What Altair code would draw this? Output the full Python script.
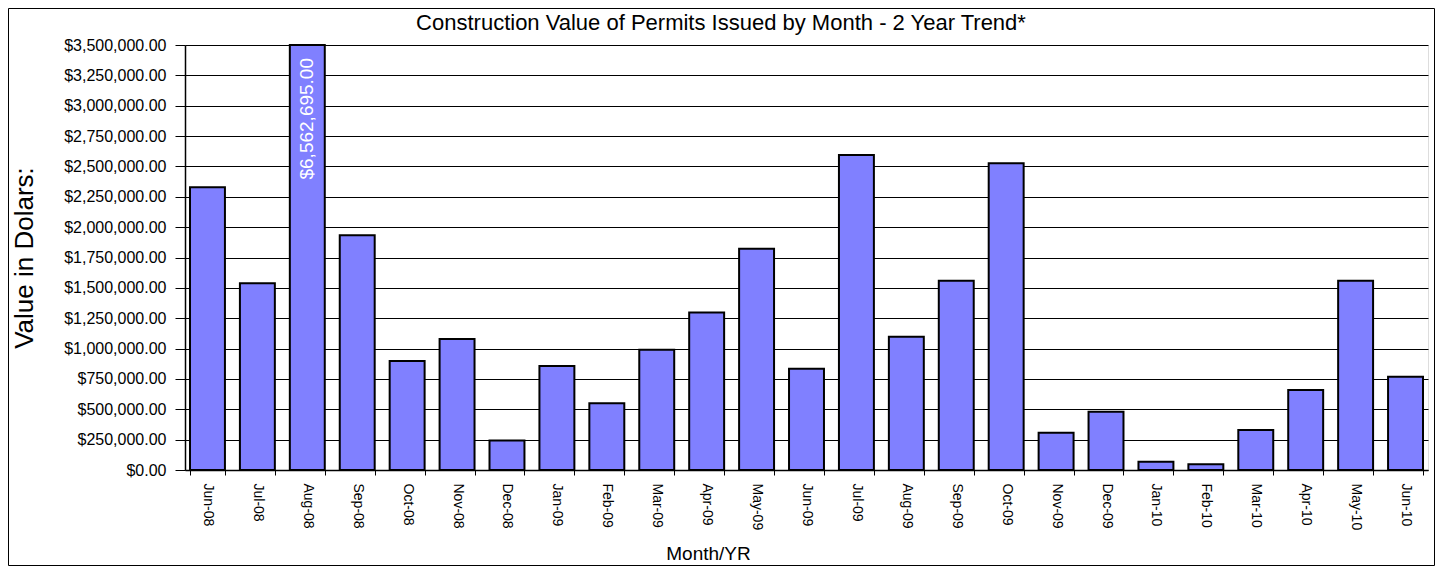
import altair as alt
import pandas as pd

months = ["Jun-08", "Jul-08", "Aug-08", "Sep-08", "Oct-08", "Nov-08", "Dec-08",
          "Jan-09", "Feb-09", "Mar-09", "Apr-09", "May-09", "Jun-09", "Jul-09",
          "Aug-09", "Sep-09", "Oct-09", "Nov-09", "Dec-09", "Jan-10", "Feb-10",
          "Mar-10", "Apr-10", "May-10", "Jun-10"]
values = [2328000, 1537000, 6562695, 1933000, 898000, 1079000, 243000,
          856000, 549000, 990000, 1298000, 1822000, 834000, 2594000,
          1098000, 1559000, 2526000, 307000, 480000, 68000, 47000,
          329000, 659000, 1559000, 768000]
y_ticks = list(range(0, 3500001, 250000))
label_month = ["Aug-08"]
label_value = [6562695]
title_text = "Construction Value of Permits Issued by Month - 2 Year Trend*"

FONT = "Liberation Sans"
df = pd.DataFrame({"month": months, "value": values})
lab = pd.DataFrame({"month": label_month, "value": label_value})
frame = pd.DataFrame({"a": [0]})

W, H = 1243, 425

xscale = alt.Scale(paddingInner=0.3, paddingOuter=0.1)
yscale = alt.Scale(domain=[0, 3500000], clamp=True, nice=False, zero=True)

border = alt.Chart(frame).mark_rect(fillOpacity=0, stroke="#000000", strokeWidth=1).encode(
    x=alt.value(-176.5), x2=alt.value(W + 6.5),
    y=alt.value(-36.5), y2=alt.value(H + 95.5),
)

title = alt.Chart(frame).mark_text(fontSize=22, font=FONT, color="#000000",
                                   align="center", baseline="alphabetic").encode(
    x=alt.value(536), y=alt.value(-15), text=alt.value(title_text),
)

bars = alt.Chart(df).mark_bar(fill="#8080FF", stroke="#000000", strokeWidth=2).encode(
    x=alt.X("month:N", sort=months, scale=xscale,
            axis=alt.Axis(title="Month/YR", labelAngle=90, labelFontSize=14,
                          labelColor="#000000", labelPadding=8, labelFont=FONT,
                          tickBand="extent", tickSize=5, tickColor="#000000",
                          domainColor="#000000", domainWidth=1.5, grid=False,
                          titleFontSize=19, titleFontWeight="normal", titleFont=FONT,
                          titleColor="#000000", titleX=523, titleY=83,
                          titleAlign="center", titleBaseline="middle")),
    y=alt.Y("value:Q", scale=yscale,
            axis=alt.Axis(title="Value in Dolars:", values=y_ticks, format="$,.2f",
                          labelFontSize=16, labelColor="#000000", labelFont=FONT,
                          labelPadding=9, tickSize=10, tickColor="#000000",
                          domainColor="#000000", domainWidth=1.5,
                          grid=True, gridColor="#000000", gridWidth=1, gridOpacity=1,
                          titleFontSize=26, titleFontWeight="normal", titleFont=FONT,
                          titleColor="#000000", titleAngle=270, titleX=-161,
                          titleY=H / 2, titleAlign="center", titleBaseline="middle")),
)

text = alt.Chart(lab).mark_text(angle=270, align="right", baseline="middle", dx=-13,
                                 fontSize=19, font=FONT, color="#FFFFFF").encode(
    x=alt.X("month:N", sort=months, scale=xscale),
    y=alt.value(0),
    text=alt.Text("value:Q", format="$,.2f"),
)

chart = alt.layer(border, title, bars, text).properties(
    width=W, height=H,
    autosize="none",
    padding={"left": 177, "top": 37, "right": 7, "bottom": 96},
).configure_view(
    fill="#C0C0C0", stroke="#808080", strokeWidth=2
).configure(background="#FFFFFF")

chart.save("out.html", embed_options={"renderer": "svg", "actions": False})
